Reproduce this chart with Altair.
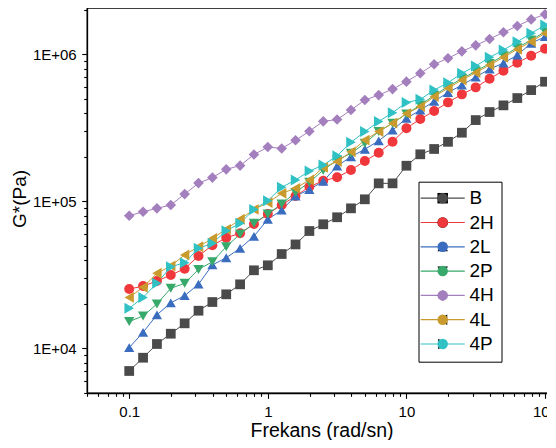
import altair as alt
import pandas as pd

freq = [0.1, 0.1259, 0.1585, 0.1995, 0.2512, 0.3162, 0.3981, 0.5012, 0.631, 0.7943,
        1, 1.259, 1.585, 1.995, 2.512, 3.162, 3.981, 5.012, 6.31, 7.943,
        10, 12.59, 15.85, 19.95, 25.12, 31.62, 39.81, 50.12, 63.1, 79.43, 100]

series_names = ["B", "2H", "2L", "2P", "4H", "4L", "4P"]

B = [7010, 8630, 10700, 12570, 14790, 18020, 20650, 23300, 27240, 33940, 36700, 43800, 50900,
     62800, 69800, 77900, 89600, 103200, 132500, 132500, 174600, 208900, 227000, 254000, 293000,
     357000, 405000, 449500, 504000, 571000, 651000]
H2 = [25300, 26500, 28700, 31500, 34800, 42500, 50200, 56500, 60600, 70000, 82000, 94400, 108600,
      125600, 138000, 145600, 163300, 188000, 214000, 254000, 314000, 363000, 411000, 471000,
      534000, 596000, 682000, 773000, 877000, 978000, 1091000]
L2 = [10100, 12840, 16900, 20400, 22800, 27300, 36900, 41300, 47900, 57800, 75500, 87000, 108600,
      120300, 137000, 173800, 201000, 226000, 258000, 305000, 367000, 417000, 479000, 550000,
      617000, 700000, 794000, 871000, 989000, 1189000, 1318000]
P2 = [15200, 16600, 20000, 25600, 27700, 34400, 38800, 49100, 59900, 70800, 82000, 96000, 115000,
      135000, 163000, 191000, 212000, 248000, 298000, 340000, 393000, 452000, 525000, 603000,
      684000, 767000, 865000, 977000, 1109000, 1250000, 1422000]
H4 = [79800, 84900, 89600, 94400, 112000, 133000, 145000, 165000, 175000, 208000, 234000, 229000,
      260000, 300000, 350000, 360000, 418000, 489000, 528000, 580000, 652000, 743000, 855000,
      940000, 1048000, 1151000, 1271000, 1412000, 1557000, 1728000, 1870000]
L4 = [22200, 26000, 32400, 36300, 43200, 49100, 55900, 64500, 75500, 88100, 98000, 113300, 122500,
      139700, 170000, 186000, 217000, 261000, 298000, 340000, 395000, 441000, 515000, 588000,
      668000, 750000, 845000, 954000, 1082000, 1219000, 1390000]
P4 = [18700, 22200, 27700, 35900, 38200, 47900, 51800, 63100, 70800, 88100, 101000, 124500, 139700,
      160700, 176400, 204000, 252000, 298000, 349000, 401000, 470000, 494000, 571000, 641000,
      743000, 832000, 954000, 1069000, 1219000, 1390000, 1582000]

colors = ["#4a4a4a", "#f0373c", "#3a6cc0", "#37a96b", "#a47fbd", "#c99b2e", "#2fc1c4"]
shapes = ["square", "circle", "triangle-up", "triangle-down", "diamond", "triangle-left", "triangle-right"]
sizes = [95, 121, 160, 160, 175, 165, 165]

x_ticks = [0.05, 0.06, 0.07, 0.08, 0.09, 0.1, 0.2, 0.3, 0.4, 0.5, 0.6, 0.7, 0.8, 0.9,
           1, 2, 3, 4, 5, 6, 7, 8, 9, 10, 20, 30, 40, 50, 60, 70, 80, 90, 100]
y_ticks = [5000, 6000, 7000, 8000, 9000, 10000, 20000, 30000, 40000, 50000, 60000, 70000, 80000,
           90000, 100000, 200000, 300000, 400000, 500000, 600000, 700000, 800000, 900000,
           1000000, 2000000]

rows = []
for k, (name, vals) in enumerate(zip(series_names, [B, H2, L2, P2, H4, L4, P4])):
    for f, v in zip(freq, vals):
        rows.append({"f": f, "g": v, "s": name, "sl": name, "k": k})
df = pd.DataFrame(rows)

FONT = "Liberation Sans"
dec = "abs(log(datum.value)/LN10 - round(log(datum.value)/LN10)) < 0.001"

xscale = alt.Scale(type="log", domain=[0.0496, 120], nice=False)
yscale = alt.Scale(type="log", domain=[4966, 2066000], nice=False)

xaxis = alt.Axis(
    values=x_ticks,
    labelExpr=f"{dec} ? (datum.value < 1 ? '0.1' : format(datum.value, 'd')) : ''",
    tickSize={"condition": {"test": dec, "value": 5.3}, "value": 3.3},
    grid=False, labelFont=FONT, labelFontSize=15, labelColor="black", labelPadding=6,
    labelOverlap=False, labelFlush=False,
    title="Frekans (rad/sn)", titleFont=FONT, titleFontSize=19.5, titleFontWeight="normal",
    titleColor="black", titleBaseline="alphabetic", titleY=43.8,
)
yaxis = alt.Axis(
    values=y_ticks,
    labelExpr=f"{dec} ? '1E+0' + round(log(datum.value)/LN10) : ''",
    tickSize={"condition": {"test": dec, "value": 5.3}, "value": 3.3},
    grid=False, labelFont=FONT, labelFontSize=15, labelColor="black", labelPadding=5.5,
    labelOverlap=False, labelFlush=False,
    title="G*(Pa)", titleFont=FONT, titleFontSize=19, titleFontWeight="normal",
    titleColor="black", titleBaseline="alphabetic", titleAlign="center", titleAngle=270,
    titleX=-62, titleY=190.5,
)

LX, LY = 331.5, 173.7
common = dict(orient="none", legendX=LX, legendY=LY, title=None, symbolSize=110,
              symbolOffset=7.7, labelFont=FONT, labelFontSize=19, labelColor="black",
              labelOffset=17.3, padding=7, rowPadding=4.3)

lines = alt.Chart(df).mark_line(strokeWidth=1).encode(
    x=alt.X("f:Q", scale=xscale, axis=xaxis),
    y=alt.Y("g:Q", scale=yscale, axis=yaxis),
    stroke=alt.Stroke("sl:N", sort=series_names, scale=alt.Scale(range=colors),
                      legend=alt.Legend(symbolType="M-4.2,0H4.2", symbolStrokeWidth=1.2,
                                        strokeColor="black", **common)),
)

mk_legend = dict(symbolStrokeWidth=0, labelOpacity=0, symbolOpacity=1, **common)

points = alt.Chart(df).mark_point(filled=True, opacity=1).encode(
    x=alt.X("f:Q", scale=xscale),
    y=alt.Y("g:Q", scale=yscale),
    fill=alt.Fill("s:N", sort=series_names, scale=alt.Scale(range=colors),
                  legend=alt.Legend(**mk_legend)),
    shape=alt.Shape("s:N", sort=series_names, scale=alt.Scale(range=shapes),
                    legend=alt.Legend(**mk_legend)),
    size=alt.Size("s:N", scale=alt.Scale(domain=series_names, range=sizes), legend=None),
)

chart = alt.layer(lines, points).properties(
    width=469, height=385,
    autosize=alt.AutoSizeParams(type="none"),
    padding={"left": 79, "top": 0, "right": -9, "bottom": 47},
).configure_view(stroke="black", strokeWidth=1.3).configure_axis(
    domainColor="black", domainWidth=1.3, tickColor="black", tickWidth=1.1
)

chart.save("out.html", embed_options={"renderer": "svg", "actions": False})
